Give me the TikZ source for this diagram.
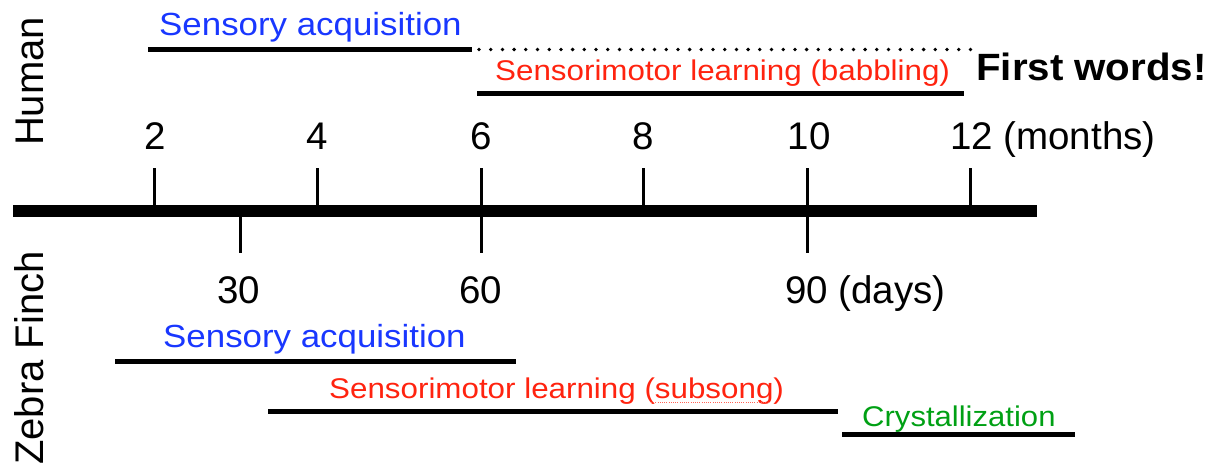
\documentclass[tikz,border=0pt]{standalone}
\usepackage{fontspec}
\setmainfont{Liberation Sans}
\definecolor{sblue}{RGB}{25,55,255}
\definecolor{sred}{RGB}{255,35,15}
\definecolor{sgreen}{RGB}{0,160,20}
\begin{document}
\begin{tikzpicture}[x=1pt,y=-1pt,
  tickline/.style={line width=3pt},
  phaseline/.style={line width=5pt},
  lbl/.style={inner sep=0pt, anchor=base, font=\fontsize{38.5}{40}\selectfont},
  lblw/.style={inner sep=0pt, anchor=base west, font=\fontsize{38.5}{40}\selectfont},
  ph/.style={inner sep=0pt, anchor=base west, font=\fontsize{28.5}{30}\selectfont},
  phbig/.style={inner sep=0pt, anchor=base west, font=\fontsize{32}{34}\selectfont},
  side/.style={inner sep=0pt, anchor=base, rotate=90, font=\fontsize{40}{42}\selectfont}]
\useasboundingbox (0,0) rectangle (1219,472);

% side labels
\node[side] (human) at (43,81.5) {Human};
\node[side] (finch) at (43,358) {Zebra Finch};

% main axis
\coordinate (axL) at (13,211);
\coordinate (axR) at (1037,211);
\draw[line width=12pt] (axL) -- (axR);

% upper ticks (months)
\foreach \x/\n in {154/a,317/b,481/c,643/d,807/e,970/f}{
  \coordinate (up\n) at (\x,168);
  \coordinate (ub\n) at (\x,211);
  \draw[tickline] (up\n) -- (ub\n);
}
% lower ticks (days)
\foreach \x/\n in {240/a,481/b,807/c}{
  \coordinate (lt\n) at (\x,211);
  \coordinate (lb\n) at (\x,253);
  \draw[tickline] (lt\n) -- (lb\n);
}

% month labels
\node[lbl] (m2) at (155,149) {2};
\node[lbl] (m4) at (317,149) {4};
\node[lbl] (m6) at (481,149) {6};
\node[lbl] (m8) at (643,149) {8};
\node[lbl] (m10) at (809,149) {10};
\node[lblw] (m12) at (950,149) {12 (months)};

% day labels
\node[lbl] (d30) at (239,303) {30};
\node[lbl] (d60) at (481,303) {60};
\node[lblw] (d90) at (785,303) {90 (days)};

% Human phases
\node[phbig, text=sblue] (hsens) at (159,35) {\scalebox{1.09}[1]{Sensory acquisition}};
\coordinate (hs1) at (148,49.5);
\coordinate (hs2) at (472,49.5);
\draw[phaseline] (hs1) -- (hs2);
\coordinate (hd1) at (479,49.5);
\coordinate (hd2) at (972,49.5);
\draw[line width=3.8pt, line cap=round, dash pattern=on 0pt off 11.7pt] (hd1) -- (hd2);

\node[ph, text=sred] (hbab) at (495,80) {\scalebox{1.10}[1]{Sensorimotor learning (babbling)}};
\coordinate (hb1) at (477,93);
\coordinate (hb2) at (964,93);
\draw[phaseline] (hb1) -- (hb2);

\node[inner sep=0pt, anchor=base west, font=\fontsize{38}{40}\selectfont\bfseries] (first) at (976,80) {\scalebox{1.06}[1]{First words!}};

% Zebra finch phases
\node[phbig, text=sblue] (zsens) at (163,347) {\scalebox{1.09}[1]{Sensory acquisition}};
\coordinate (zs1) at (115,361);
\coordinate (zs2) at (516,361);
\draw[phaseline] (zs1) -- (zs2);

\node[ph, text=sred] (zsub) at (329,398) {\scalebox{1.10}[1]{Sensorimotor learning (subsong)}};
\coordinate (zu1) at (651,402.5);
\coordinate (zu2) at (769,402.5);
\draw[sred!70, line width=1pt, dash pattern=on 1pt off 1.2pt] (zu1) -- (zu2);
\coordinate (zm1) at (268,411);
\coordinate (zm2) at (838,411);
\draw[phaseline] (zm1) -- (zm2);

\node[ph, text=sgreen] (zcry) at (862,426) {\scalebox{1.09}[1]{Crystallization}};
\coordinate (zc1) at (842,434);
\coordinate (zc2) at (1075,434);
\draw[phaseline] (zc1) -- (zc2);
\end{tikzpicture}
\end{document}
